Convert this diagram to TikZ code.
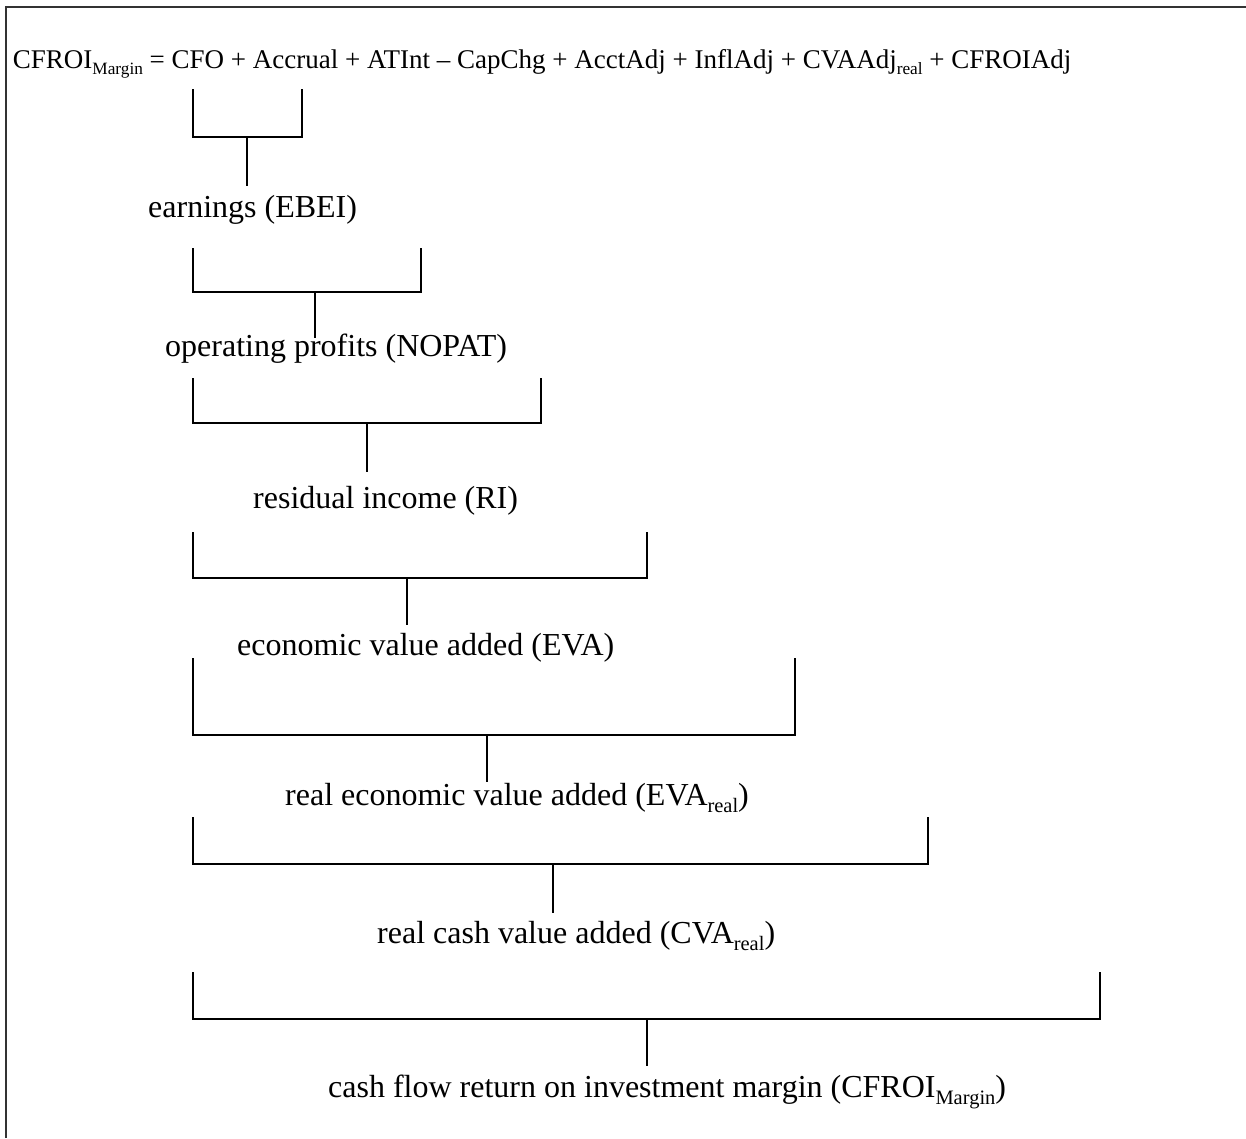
\documentclass[tikz,border=0pt]{standalone}
\usepackage{graphicx}
\usepackage{fontspec}
\setmainfont{Liberation Serif}
\newcommand{\lowsub}[1]{\raisebox{-0.24em}{\scalebox{0.64}{#1}}}
\begin{document}
\begin{tikzpicture}[x=1pt,y=-1pt,
  brk/.style={line width=1.9pt},
  lbl/.style={inner sep=0pt, anchor=base west, font=\fontsize{32}{38}\selectfont},
  frm/.style={inner sep=0pt, anchor=base west, font=\fontsize{27}{32}\selectfont}]
\useasboundingbox (0,0) rectangle (1246,1138);
\draw[line width=1.5pt, black!80] (6,1138) -- (6,7) -- (1246,7);

\node[frm] (formula) at (12.7,68) {CFROI\lowsub{Margin} = CFO + Accrual + ATInt \textendash{} CapChg + AcctAdj + InflAdj + CVAAdj\lowsub{real} + CFROIAdj};

\node[lbl] (ebei)  at (148,217)  {earnings (EBEI)};
\node[lbl] (nopat) at (165,356)  {operating profits (NOPAT)};
\node[lbl] (ri)    at (253,508)  {residual income (RI)};
\node[lbl] (eva)   at (237,655)  {economic value added (EVA)};
\node[lbl] (evar)  at (285,805)  {real economic value added (EVA\lowsub{real})};
\node[lbl] (cvar)  at (377,943)  {real cash value added (CVA\lowsub{real})};
\node[lbl] (cfroi) at (328,1097) {cash flow return on investment margin (CFROI\lowsub{Margin})};

\foreach \n/\xr/\t/\h/\xs/\e in {1/302/89/137/247/186, 2/421/248/292/315/338, 3/541/378/423/367/472, 4/647/532/578/407/625, 5/795/658/735/487/782, 6/928/817/864/553/913, 7/1100/972/1019/647/1066} {
  \coordinate (b\n tl) at (193,\t);
  \coordinate (b\n bl) at (193,\h);
  \coordinate (b\n br) at (\xr,\h);
  \coordinate (b\n tr) at (\xr,\t);
  \coordinate (b\n m) at (\xs,\h);
  \coordinate (b\n s) at (\xs,\e);
  \draw[brk] (b\n tl) -- (b\n bl) -- (b\n br) -- (b\n tr);
  \draw[brk] (b\n m) -- (b\n s);
}
\end{tikzpicture}
\end{document}
